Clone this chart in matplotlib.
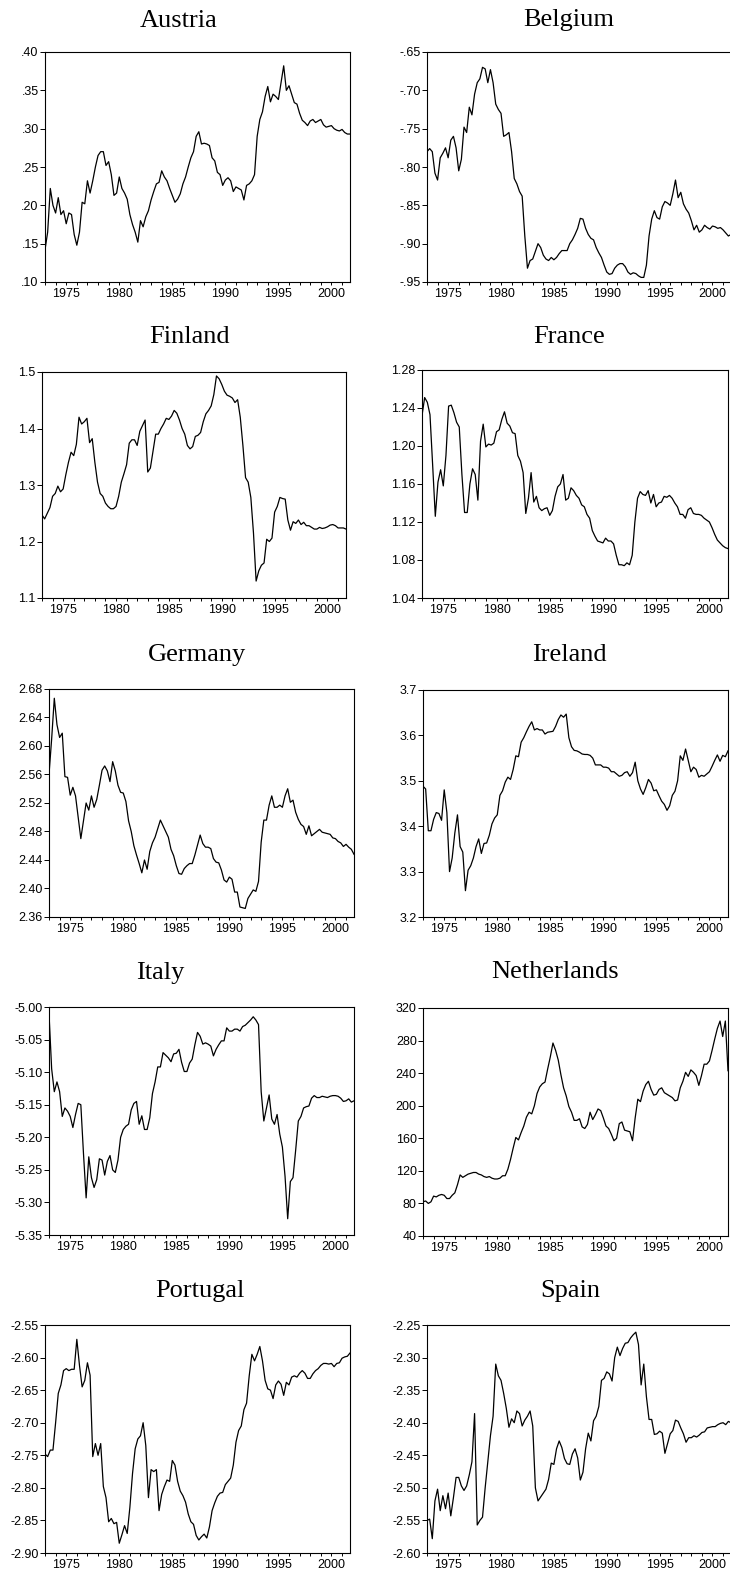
import numpy as np
import matplotlib.pyplot as plt

# quarterly series, 1973Q1 - 2001Q4
countries = ["Austria", "Belgium", "Finland", "France", "Germany",
             "Ireland", "Italy", "Netherlands", "Portugal", "Spain"]

austria = [.142, .165, .222, .200, .190, .210, .188, .193, .176, .190, .188, .162,
           .148, .165, .204, .202, .232, .216, .232, .250, .265, .270, .270, .252,
           .257, .240, .213, .216, .237, .222, .216, .208, .188, .175, .165, .152,
           .180, .172, .185, .193, .207, .218, .228, .230, .245, .237, .232, .222,
           .213, .204, .208, .215, .228, .237, .250, .262, .270, .290, .296, .280,
           .281, .280, .278, .262, .258, .243, .240, .226, .233, .236, .232, .218,
           .224, .222, .220, .207, .226, .228, .232, .240, .290, .312, .322, .342,
           .355, .335, .345, .342, .338, .360, .382, .350, .356, .345, .334, .332,
           .320, .311, .308, .304, .310, .312, .308, .310, .312, .305, .302, .303,
           .304, .300, .298, .297, .299, .295, .293, .293]

belgium = [-.780, -.776, -.780, -.808, -.817, -.788, -.782, -.775, -.788, -.765, -.760, -.775,
           -.805, -.790, -.748, -.755, -.722, -.732, -.705, -.690, -.685, -.670, -.672, -.690,
           -.673, -.690, -.718, -.725, -.730, -.760, -.758, -.755, -.780, -.815, -.822, -.832,
           -.838, -.890, -.932, -.922, -.920, -.910, -.900, -.905, -.915, -.920, -.922, -.918,
           -.921, -.918, -.913, -.909, -.909, -.909, -.900, -.895, -.888, -.880, -.867, -.868,
           -.880, -.888, -.893, -.895, -.905, -.912, -.918, -.928, -.937, -.940, -.939, -.932,
           -.928, -.926, -.926, -.930, -.937, -.940, -.938, -.939, -.942, -.944, -.944, -.928,
           -.890, -.868, -.857, -.866, -.868, -.852, -.845, -.847, -.850, -.835, -.817, -.840,
           -.833, -.848, -.855, -.860, -.870, -.882, -.876, -.885, -.882, -.876, -.879, -.881,
           -.877, -.878, -.880, -.879, -.882, -.886, -.890, -.888]

finland = [1.247, 1.240, 1.250, 1.260, 1.280, 1.285, 1.298, 1.288, 1.293, 1.318, 1.340, 1.358,
           1.352, 1.372, 1.420, 1.408, 1.412, 1.418, 1.375, 1.382, 1.340, 1.305, 1.285, 1.280,
           1.268, 1.262, 1.258, 1.258, 1.262, 1.280, 1.305, 1.320, 1.336, 1.374, 1.380, 1.380,
           1.370, 1.395, 1.405, 1.415, 1.323, 1.330, 1.360, 1.390, 1.390, 1.400, 1.408, 1.418,
           1.416, 1.422, 1.432, 1.427, 1.415, 1.400, 1.390, 1.370, 1.364, 1.368, 1.386, 1.388,
           1.393, 1.412, 1.426, 1.432, 1.440, 1.460, 1.493, 1.488, 1.478, 1.466, 1.459, 1.457,
           1.454, 1.446, 1.451, 1.420, 1.370, 1.313, 1.305, 1.278, 1.215, 1.130, 1.148, 1.158,
           1.162, 1.204, 1.200, 1.206, 1.252, 1.262, 1.278, 1.276, 1.275, 1.238, 1.220, 1.235,
           1.232, 1.238, 1.230, 1.234, 1.228, 1.228, 1.225, 1.222, 1.222, 1.225, 1.223, 1.224,
           1.226, 1.229, 1.230, 1.228, 1.224, 1.224, 1.224, 1.222]

france = [1.232, 1.251, 1.246, 1.233, 1.180, 1.126, 1.162, 1.175, 1.158, 1.190, 1.242, 1.243,
          1.235, 1.225, 1.220, 1.170, 1.130, 1.130, 1.160, 1.176, 1.170, 1.143, 1.205, 1.223,
          1.199, 1.202, 1.201, 1.203, 1.215, 1.217, 1.228, 1.236, 1.224, 1.221, 1.214, 1.213,
          1.190, 1.184, 1.172, 1.129, 1.145, 1.172, 1.141, 1.147, 1.135, 1.132, 1.134, 1.135,
          1.127, 1.132, 1.147, 1.157, 1.160, 1.170, 1.143, 1.145, 1.156, 1.153, 1.148, 1.145,
          1.138, 1.136, 1.128, 1.124, 1.111, 1.105, 1.100, 1.099, 1.098, 1.103, 1.100, 1.100,
          1.097, 1.085, 1.075, 1.075, 1.074, 1.077, 1.075, 1.085, 1.120, 1.145, 1.152, 1.149,
          1.148, 1.153, 1.140, 1.149, 1.136, 1.140, 1.141, 1.147, 1.146, 1.148, 1.145, 1.140,
          1.136, 1.128, 1.128, 1.124, 1.133, 1.135, 1.129, 1.128, 1.128, 1.127, 1.124, 1.122,
          1.120, 1.114, 1.107, 1.101, 1.098, 1.095, 1.093, 1.092]

germany = [2.560, 2.610, 2.667, 2.630, 2.612, 2.618, 2.557, 2.556, 2.531, 2.542, 2.530, 2.500,
           2.470, 2.495, 2.520, 2.510, 2.530, 2.514, 2.525, 2.545, 2.566, 2.572, 2.565, 2.550,
           2.578, 2.565, 2.545, 2.535, 2.534, 2.522, 2.495, 2.480, 2.460, 2.447, 2.435, 2.422,
           2.440, 2.427, 2.452, 2.464, 2.472, 2.484, 2.496, 2.488, 2.480, 2.472, 2.455, 2.446,
           2.432, 2.421, 2.420, 2.428, 2.432, 2.435, 2.435, 2.447, 2.461, 2.475, 2.463, 2.458,
           2.458, 2.456, 2.442, 2.437, 2.436, 2.426, 2.412, 2.409, 2.416, 2.413, 2.395, 2.395,
           2.374, 2.373, 2.372, 2.386, 2.392, 2.398, 2.396, 2.410, 2.465, 2.496, 2.496, 2.517,
           2.530, 2.514, 2.514, 2.517, 2.514, 2.530, 2.540, 2.521, 2.524, 2.507, 2.497, 2.490,
           2.487, 2.476, 2.488, 2.474, 2.477, 2.480, 2.483, 2.479, 2.478, 2.477, 2.476, 2.471,
           2.470, 2.466, 2.464, 2.459, 2.462, 2.458, 2.455, 2.448]

ireland = [3.488, 3.482, 3.390, 3.390, 3.415, 3.430, 3.428, 3.413, 3.480, 3.430, 3.300, 3.330,
           3.385, 3.425, 3.355, 3.343, 3.258, 3.303, 3.313, 3.330, 3.355, 3.372, 3.340, 3.362,
           3.363, 3.380, 3.405, 3.418, 3.425, 3.468, 3.478, 3.497, 3.508, 3.503, 3.525, 3.555,
           3.553, 3.585, 3.595, 3.608, 3.620, 3.630, 3.612, 3.615, 3.612, 3.612, 3.603, 3.607,
           3.608, 3.609, 3.620, 3.635, 3.645, 3.640, 3.647, 3.595, 3.575, 3.567, 3.566, 3.563,
           3.559, 3.558, 3.558, 3.556, 3.550, 3.535, 3.535, 3.535, 3.530, 3.530, 3.528, 3.520,
           3.520, 3.515, 3.510, 3.512, 3.518, 3.520, 3.510, 3.518, 3.541, 3.500, 3.482, 3.470,
           3.485, 3.503, 3.495, 3.478, 3.480, 3.467, 3.455, 3.448, 3.435, 3.445, 3.468, 3.477,
           3.500, 3.555, 3.545, 3.570, 3.545, 3.520, 3.530, 3.525, 3.508, 3.512, 3.510, 3.515,
           3.520, 3.532, 3.545, 3.557, 3.543, 3.556, 3.553, 3.566]

italy = [-5.010, -5.095, -5.130, -5.115, -5.130, -5.168, -5.155, -5.160, -5.168, -5.185, -5.165, -5.148,
         -5.150, -5.225, -5.293, -5.230, -5.262, -5.277, -5.265, -5.233, -5.235, -5.258, -5.237, -5.228,
         -5.250, -5.254, -5.235, -5.200, -5.188, -5.183, -5.180, -5.158, -5.148, -5.145, -5.180, -5.167,
         -5.188, -5.188, -5.170, -5.133, -5.115, -5.092, -5.092, -5.070, -5.074, -5.078, -5.084, -5.072,
         -5.071, -5.065, -5.085, -5.099, -5.099, -5.086, -5.080, -5.058, -5.039, -5.045, -5.057, -5.055,
         -5.057, -5.060, -5.075, -5.065, -5.058, -5.052, -5.052, -5.032, -5.037, -5.037, -5.034, -5.034,
         -5.037, -5.030, -5.028, -5.024, -5.020, -5.015, -5.020, -5.027, -5.130, -5.175, -5.155, -5.135,
         -5.172, -5.180, -5.165, -5.195, -5.215, -5.260, -5.325, -5.268, -5.262, -5.220, -5.175, -5.168,
         -5.155, -5.153, -5.152, -5.140, -5.136, -5.139, -5.139, -5.137, -5.138, -5.139, -5.137, -5.136,
         -5.136, -5.137, -5.140, -5.145, -5.144, -5.141, -5.146, -5.144]

netherlands = [82, 83, 80, 82, 89, 88, 90, 91, 90, 86, 86, 90,
               93, 103, 115, 112, 114, 116, 117, 118, 118, 116, 115, 113,
               112, 113, 111, 110, 110, 111, 114, 114, 122, 134, 148, 161,
               158, 167, 175, 186, 192, 190, 200, 215, 223, 227, 229, 245,
               260, 277, 268, 256, 238, 222, 212, 199, 192, 182, 182, 184,
               174, 172, 177, 192, 183, 189, 196, 194, 185, 175, 172, 165,
               157, 160, 178, 180, 170, 169, 168, 157, 185, 208, 205, 218,
               226, 230, 220, 213, 214, 220, 222, 216, 214, 212, 210, 206,
               207, 222, 230, 241, 236, 244, 241, 237, 225, 237, 251, 251,
               255, 268, 282, 295, 304, 285, 304, 243]

portugal = [-2.748, -2.752, -2.742, -2.742, -2.700, -2.655, -2.642, -2.620, -2.617, -2.620, -2.618, -2.618,
            -2.572, -2.612, -2.645, -2.635, -2.608, -2.627, -2.752, -2.732, -2.750, -2.732, -2.798, -2.815,
            -2.852, -2.847, -2.855, -2.853, -2.885, -2.872, -2.858, -2.870, -2.830, -2.778, -2.740, -2.725,
            -2.720, -2.700, -2.735, -2.815, -2.772, -2.775, -2.772, -2.835, -2.810, -2.798, -2.788, -2.790,
            -2.758, -2.765, -2.790, -2.805, -2.812, -2.822, -2.840, -2.852, -2.856, -2.873, -2.880, -2.875,
            -2.871, -2.877, -2.860, -2.835, -2.823, -2.813, -2.808, -2.807, -2.795, -2.790, -2.785, -2.765,
            -2.730, -2.712, -2.705, -2.680, -2.670, -2.628, -2.595, -2.605, -2.595, -2.583, -2.605, -2.635,
            -2.648, -2.650, -2.663, -2.642, -2.636, -2.641, -2.658, -2.638, -2.642, -2.630, -2.628, -2.630,
            -2.624, -2.620, -2.624, -2.632, -2.632, -2.625, -2.620, -2.617, -2.612, -2.609, -2.609, -2.610,
            -2.609, -2.614, -2.609, -2.608, -2.601, -2.599, -2.598, -2.593]

spain = [-2.550, -2.548, -2.578, -2.520, -2.502, -2.535, -2.512, -2.532, -2.508, -2.543, -2.515, -2.484,
         -2.484, -2.497, -2.504, -2.497, -2.480, -2.460, -2.386, -2.557, -2.550, -2.545, -2.500, -2.460,
         -2.420, -2.390, -2.310, -2.328, -2.335, -2.355, -2.378, -2.407, -2.394, -2.400, -2.382, -2.386,
         -2.405, -2.396, -2.390, -2.382, -2.405, -2.500, -2.520, -2.514, -2.508, -2.502, -2.487, -2.462,
         -2.464, -2.440, -2.428, -2.438, -2.455, -2.463, -2.464, -2.448, -2.440, -2.454, -2.488, -2.476,
         -2.440, -2.416, -2.428, -2.397, -2.390, -2.375, -2.335, -2.332, -2.322, -2.325, -2.336, -2.300,
         -2.284, -2.297, -2.286, -2.278, -2.277, -2.270, -2.265, -2.261, -2.280, -2.342, -2.310, -2.360,
         -2.395, -2.395, -2.418, -2.417, -2.413, -2.416, -2.447, -2.432, -2.417, -2.412, -2.396, -2.398,
         -2.408, -2.417, -2.430, -2.423, -2.423, -2.420, -2.422, -2.419, -2.415, -2.414, -2.408, -2.407,
         -2.406, -2.406, -2.403, -2.401, -2.400, -2.403, -2.398, -2.400]

series = [austria, belgium, finland, france, germany,
          ireland, italy, netherlands, portugal, spain]

# y axis: (low, high, step, decimals)
y_scales = [(0.10, 0.40, 0.05, 2), (-0.95, -0.65, 0.05, 2),
            (1.1, 1.5, 0.1, 1), (1.04, 1.28, 0.04, 2),
            (2.36, 2.68, 0.04, 2), (3.2, 3.7, 0.1, 1),
            (-5.35, -5.00, 0.05, 2), (40, 320, 40, 0),
            (-2.90, -2.55, 0.05, 2), (-2.60, -2.25, 0.05, 2)]

# panel boxes in pixels: left, top, right, bottom
boxes = [(45, 52, 350, 282), (427, 52, 731, 282),
         (42, 372, 346, 598), (422, 370, 728, 598),
         (49, 689, 354, 917), (423, 690, 728, 917),
         (49, 1007, 354, 1235), (423, 1008, 728, 1236),
         (45, 1325, 350, 1553), (427, 1325, 731, 1553)]
# title centre x and baseline y in pixels
title_pos = [(179, 27), (569, 26), (190, 343), (569, 343), (197, 661),
             (569, 661), (160, 979), (555, 978), (200, 1297), (570, 1297)]

W, H = 730, 1577
sans = ["Liberation Sans", "DejaVu Sans"]


def ev_label(v, dec):
    s = f"{v:.{dec}f}"
    if s.startswith("0."):
        s = s[1:]
    elif s.startswith("-0."):
        s = "-" + s[2:]
    return s


fig = plt.figure(figsize=(W / 100, H / 100), dpi=100)

for name, vals, ysc, box, tp in zip(countries, series, y_scales, boxes, title_pos):
    l, t, r, b = box
    ax = fig.add_axes([l / W, 1 - b / H, (r - l) / W, (b - t) / H])
    x = 1973 + np.arange(len(vals)) * 0.25
    ax.plot(x, vals, color="black", lw=0.9)
    ax.set_xlim(1973, 2001.75)

    lo, hi, step, dec = ysc
    yt = np.arange(lo, hi + step / 2, step)
    ax.set_ylim(lo, hi)
    ax.set_yticks(yt)
    ax.set_yticklabels([ev_label(v, dec) for v in yt], family=sans, fontsize=9)

    years = np.arange(1973, 2002)
    ax.set_xticks(years)
    ax.set_xticklabels([str(y) if y % 5 == 0 else "" for y in years],
                       family=sans, fontsize=9)

    ax.tick_params(axis="y", direction="out", length=3.5, width=0.7, pad=1)
    ax.tick_params(axis="x", direction="out", length=2.5, width=0.7, pad=2)
    for sp in ax.spines.values():
        sp.set_linewidth(0.8)

    fig.text(tp[0] / W, 1 - tp[1] / H, name, ha="center", va="baseline",
             family=["Liberation Serif", "DejaVu Serif"], fontsize=19)

fig.savefig("out.png", dpi=100)
